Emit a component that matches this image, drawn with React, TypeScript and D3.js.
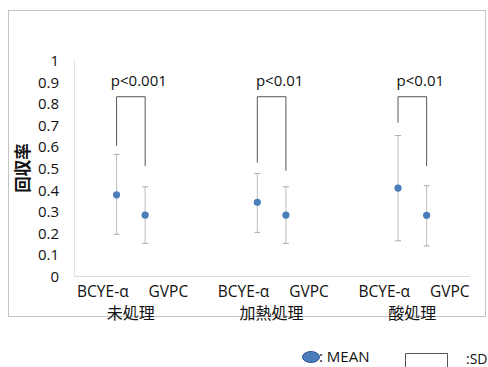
import * as d3 from "d3";

const groups = ["未処理", "加熱処理", "酸処理"];
const media = ["BCYE-α", "GVPC"];
const yTicks = [0, 0.1, 0.2, 0.3, 0.4, 0.5, 0.6, 0.7, 0.8, 0.9, 1];

// mean, lower and upper end of the SD bar, per group then per medium
const means = [
  [0.376, 0.282],
  [0.341, 0.282],
  [0.407, 0.281],
];
const lows = [
  [0.193, 0.151],
  [0.202, 0.151],
  [0.163, 0.139],
];
const highs = [
  [0.563, 0.413],
  [0.475, 0.413],
  [0.65, 0.418],
];

// significance brackets: top, left leg end, right leg end
const pLabels = ["p<0.001", "p<0.01", "p<0.01"];
const bracketTop = [0.83, 0.83, 0.83];
const bracketLeft = [0.603, 0.525, 0.71];
const bracketRight = [0.509, 0.487, 0.509];

const width = 488;
const height = 367;
const font = "'Open Sans', 'Noto Sans', 'Noto Sans CJK JP', sans-serif";
const cjk = "'Noto Sans CJK JP', 'Noto Sans', sans-serif";

export default function App() {
  const y = d3.scaleLinear().domain([0, 1]).range([276, 60]);
  const xGroup = d3.scaleBand().domain(groups).range([60.5, 482.7]);
  const xPoint = d3.scalePoint().domain(media).range([-14.3, 14.3]);
  const xLabel = d3.scalePoint().domain(media).range([-28, 37.5]);
  const gc = (g: string) => (xGroup(g) ?? 0) + xGroup.bandwidth() / 2;

  return (
    <svg
      width={width}
      height={height}
      style={{ position: "absolute", left: 0, top: 0, background: "#fff" }}
      fontFamily={font}
    >
      <rect x={8.5} y={10.5} width={477} height={306} fill="#fff" stroke="#c4c4c4" />

      {/* y axis */}
      <line x1={74.5} x2={74.5} y1={y(1)} y2={y(0)} stroke="#e2e2e2" />
      <line x1={74} x2={470} y1={y(0) + 0.5} y2={y(0) + 0.5} stroke="#d9d9d9" />
      {yTicks.map((t) => (
        <text
          key={t}
          x={59}
          y={y(t)}
          fontSize={15}
          textAnchor="end"
          dominantBaseline="central"
          fill="#111"
        >
          {t}
        </text>
      ))}
      <text
        transform={`translate(22,168) rotate(-90)`}
        fontSize={16.5}
        fontWeight="bold"
        textAnchor="middle"
        dominantBaseline="central"
        fontFamily={cjk}
        fill="#111"
      >
        回収率
      </text>

      {groups.map((g, gi) => {
        const c = gc(g);
        const xl = c + (xPoint(media[0]) ?? 0);
        const xr = c + (xPoint(media[1]) ?? 0);
        return (
          <g key={g}>
            {/* bracket */}
            <path
              d={`M${xl},${y(bracketLeft[gi])}V${y(bracketTop[gi])}H${xr}V${y(bracketRight[gi])}`}
              fill="none"
              stroke="#555"
              strokeWidth={1}
            />
            <text
              x={c + 8}
              y={80}
              fontSize={15}
              textAnchor="middle"
              dominantBaseline="central"
              fill="#111"
            >
              {pLabels[gi]}
            </text>
            {media.map((m, mi) => {
              const px = c + (xPoint(m) ?? 0);
              return (
                <g key={m}>
                  <line x1={px} x2={px} y1={y(highs[gi][mi])} y2={y(lows[gi][mi])} stroke="#bdbdbd" />
                  <line x1={px - 3} x2={px + 3} y1={y(highs[gi][mi])} y2={y(highs[gi][mi])} stroke="#aaa" />
                  <line x1={px - 3} x2={px + 3} y1={y(lows[gi][mi])} y2={y(lows[gi][mi])} stroke="#aaa" />
                  <circle cx={px} cy={y(means[gi][mi])} r={3.6} fill="#4a7ebb" />
                  <text
                    x={c + (xLabel(m) ?? 0)}
                    y={291}
                    fontSize={15.5}
                    textAnchor="middle"
                    dominantBaseline="central"
                    fill="#111"
                  >
                    {m}
                  </text>
                </g>
              );
            })}
            <text
              x={c}
              y={312}
              fontSize={16}
              textAnchor="middle"
              dominantBaseline="central"
              fontFamily={cjk}
              fill="#111"
            >
              {g}
            </text>
          </g>
        );
      })}

      {/* legend */}
      <ellipse cx={311} cy={357} rx={8.5} ry={5.5} fill="#4a7ebb" stroke="#2f5597" strokeWidth={1} />
      <text x={319} y={356} fontSize={15} dominantBaseline="central" fill="#111">
        : MEAN
      </text>
      <path d="M405.5,367V353.5H447.5V367" fill="none" stroke="#555" />
      <text x={466} y={358} fontSize={14} dominantBaseline="central" fill="#111">
        :SD
      </text>
    </svg>
  );
}
